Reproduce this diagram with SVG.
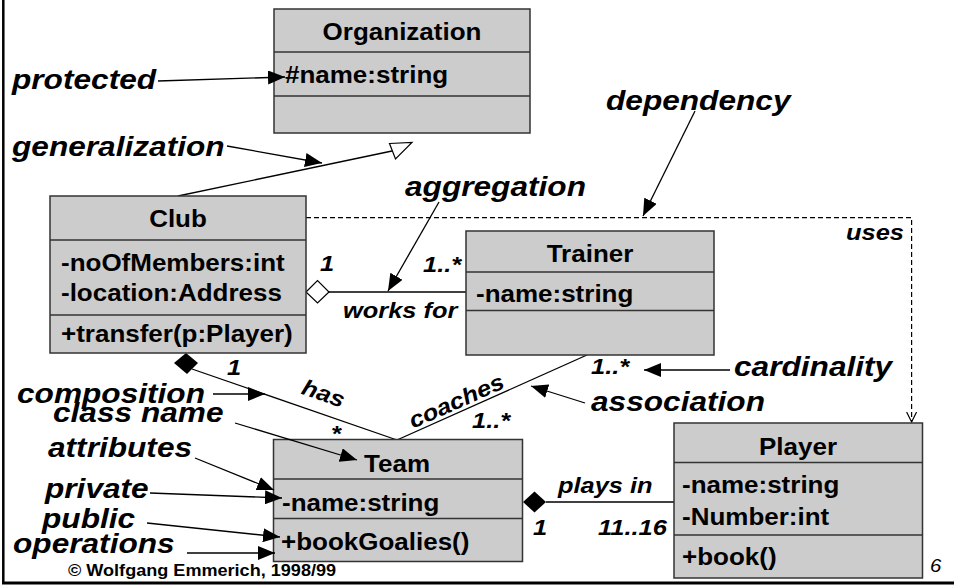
<svg xmlns="http://www.w3.org/2000/svg" width="954" height="586" viewBox="0 0 954 586">
<defs>
<style>
.box{fill:#cccccc;stroke:#333;stroke-width:1.5}
.div{stroke:#333;stroke-width:1.5}
.t{font-family:"Liberation Sans",Arial,sans-serif;font-weight:bold;font-size:23px;fill:#000}
.c{text-anchor:middle}
.lab{font-family:"Liberation Sans",Arial,sans-serif;font-weight:bold;font-style:italic;font-size:28px;fill:#000}
.sm{font-family:"Liberation Sans",Arial,sans-serif;font-weight:bold;font-style:italic;font-size:22.5px;fill:#000}
.ln{stroke:#000;stroke-width:1.3;fill:none}
.ar{stroke:#000;stroke-width:1.3;fill:none;marker-end:url(#ah)}
.dash{stroke:#000;stroke-width:1.2;fill:none;stroke-dasharray:5 3}
</style>
<marker id="ah" markerUnits="userSpaceOnUse" markerWidth="18" markerHeight="14" refX="17" refY="7" orient="auto">
<path d="M0,0 L17,7 L0,14 z" fill="#000"/>
</marker>
<marker id="open" markerUnits="userSpaceOnUse" markerWidth="12" markerHeight="12" refX="10" refY="5" orient="auto">
<path d="M0,0 L10,5 L0,10" fill="none" stroke="#000" stroke-width="1.2"/>
</marker>
</defs>
<rect width="954" height="586" fill="#fff"/>
<g id="frame">
<line x1="3.3" y1="0" x2="3.3" y2="583" stroke="#000" stroke-width="2.5"/>
<line x1="2" y1="583" x2="954" y2="583" stroke="#000" stroke-width="3"/>
</g>

<g id="connectors">
<line class="ln" x1="178" y1="196" x2="392" y2="151"/>
<polygon points="389.5,143.5 412,142.5 395.5,159" fill="#fff" stroke="#000" stroke-width="1.2"/>
<path class="dash" d="M306,217.7 H911.6 V422" marker-end="url(#open)"/>
<line class="ln" x1="329" y1="292" x2="466" y2="292"/>
<polygon points="306,292 317.5,280.5 329,292 317.5,303" fill="#fff" stroke="#000" stroke-width="1.2"/>
<line class="ln" x1="192" y1="369" x2="397" y2="440"/>
<polygon points="186,353 198,363 187,374 174,363" fill="#000"/>
<line class="ln" x1="397" y1="440" x2="587" y2="355"/>
<line class="ln" x1="546" y1="502" x2="674" y2="502"/>
<polygon points="523,502 534.5,491.5 546,502 534.5,512.5" fill="#000"/>
</g>

<g id="Organization">
<rect class="box" x="274" y="9" width="256" height="124"/>
<line class="div" x1="274" y1="52" x2="530" y2="52"/>
<line class="div" x1="274" y1="96" x2="530" y2="96"/>
<text class="t c" transform="matrix(1.13 0 0 1 402 40)">Organization</text>
<text class="t" transform="matrix(1.13 0 0 1 285 83)">#name:string</text>
</g>

<g id="Club">
<rect class="box" x="50" y="196" width="256" height="157"/>
<line class="div" x1="50" y1="240" x2="306" y2="240"/>
<line class="div" x1="50" y1="315" x2="306" y2="315"/>
<text class="t c" transform="matrix(1.13 0 0 1 178 227)">Club</text>
<text class="t" transform="matrix(1.13 0 0 1 61 271)">-noOfMembers:int</text>
<text class="t" transform="matrix(1.13 0 0 1 61 301)">-location:Address</text>
<text class="t" transform="matrix(1.13 0 0 1 61 342)">+transfer(p:Player)</text>
</g>

<g id="Trainer">
<rect class="box" x="466" y="231" width="248" height="124"/>
<line class="div" x1="466" y1="272" x2="714" y2="272"/>
<line class="div" x1="466" y1="310.5" x2="714" y2="310.5"/>
<text class="t c" transform="matrix(1.13 0 0 1 590 262)">Trainer</text>
<text class="t" transform="matrix(1.13 0 0 1 476 302)">-name:string</text>
</g>

<g id="Team">
<rect class="box" x="273.5" y="439.5" width="249" height="122"/>
<line class="div" x1="273.5" y1="479" x2="522.5" y2="479"/>
<line class="div" x1="273.5" y1="518.5" x2="522.5" y2="518.5"/>
<text class="t c" transform="matrix(1.13 0 0 1 397 472)">Team</text>
<text class="t" transform="matrix(1.13 0 0 1 282 511)">-name:string</text>
<text class="t" transform="matrix(1.13 0 0 1 281 550)">+bookGoalies()</text>
</g>

<g id="Player">
<rect class="box" x="674" y="423" width="248.5" height="155"/>
<line class="div" x1="674" y1="462.5" x2="922.5" y2="462.5"/>
<line class="div" x1="674" y1="535" x2="922.5" y2="535"/>
<text class="t c" transform="matrix(1.13 0 0 1 798 455)">Player</text>
<text class="t" transform="matrix(1.13 0 0 1 682 493)">-name:string</text>
<text class="t" transform="matrix(1.13 0 0 1 682 525)">-Number:int</text>
<text class="t" transform="matrix(1.13 0 0 1 682 565)">+book()</text>
</g>

<g id="annotation-arrows">
<line class="ar" x1="158" y1="81" x2="285" y2="77"/>
<line class="ar" x1="227" y1="146" x2="322" y2="163"/>
<line class="ar" x1="695" y1="111" x2="643" y2="216"/>
<line class="ar" x1="439" y1="202" x2="388" y2="291"/>
<line class="ar" x1="730" y1="370" x2="644" y2="370"/>
<line class="ar" x1="585" y1="403" x2="531" y2="386"/>
<line class="ar" x1="213" y1="394" x2="265" y2="394"/>
<line class="ar" x1="235" y1="423" x2="357" y2="460"/>
<line class="ar" x1="195" y1="458" x2="274" y2="490"/>
<line class="ar" x1="150" y1="493" x2="282" y2="498"/>
<line class="ar" x1="147" y1="523" x2="280" y2="537"/>
<line class="ar" x1="187" y1="553" x2="275" y2="553"/>
</g>

<g id="connector-labels">
<text class="sm" transform="matrix(1.13 0 0 1 320 271)">1</text>
<text class="sm" transform="matrix(1.13 0 0 1 423 272)">1..*</text>
<text class="sm" transform="matrix(1.13 0 0 1 343 318)">works for</text>
<text class="sm" transform="matrix(1.13 0 0 1 846 240)">uses</text>
<text class="sm" transform="matrix(1.13 0 0 1 227 375)">1</text>
<text class="sm c" transform="translate(321 400.6) rotate(19) scale(1.13 1)">has</text>
<text class="sm c" transform="matrix(1.13 0 0 1 336 441)">*</text>
<text class="sm c" transform="translate(459.5 408) rotate(-24) scale(1.13 1)">coaches</text>
<text class="sm" transform="matrix(1.13 0 0 1 472 428)">1..*</text>
<text class="sm" transform="matrix(1.13 0 0 1 591 374)">1..*</text>
<text class="sm" transform="matrix(1.13 0 0 1 558 493)">plays in</text>
<text class="sm" transform="matrix(1.13 0 0 1 533 535)">1</text>
<text class="sm" transform="matrix(1.13 0 0 1 598 535)">11..16</text>
</g>

<g id="annotations">
<text class="lab" transform="matrix(1.13 0 0 1 12 89)">protected</text>
<text class="lab" transform="matrix(1.13 0 0 1 12 156)">generalization</text>
<text class="lab" transform="matrix(1.13 0 0 1 606 110)">dependency</text>
<text class="lab" transform="matrix(1.13 0 0 1 405 196)">aggregation</text>
<text class="lab" transform="matrix(1.13 0 0 1 734 376)">cardinality</text>
<text class="lab" transform="matrix(1.13 0 0 1 591 411)">association</text>
<text class="lab" transform="matrix(1.13 0 0 1 17 403)">composition</text>
<text class="lab" transform="matrix(1.13 0 0 1 53 422)">class name</text>
<text class="lab" transform="matrix(1.13 0 0 1 48 457)">attributes</text>
<text class="lab" transform="matrix(1.13 0 0 1 45 498)">private</text>
<text class="lab" transform="matrix(1.13 0 0 1 42 528)">public</text>
<text class="lab" transform="matrix(1.13 0 0 1 13 553)">operations</text>
</g>

<g id="footer">
<text transform="matrix(1.13 0 0 1 68 576)" font-family="Liberation Sans, Arial, sans-serif" font-weight="bold" font-size="16">© Wolfgang Emmerich, 1998/99</text>
<text transform="matrix(1.13 0 0 1 930 572)" font-family="Liberation Sans, Arial, sans-serif" font-style="italic" font-size="18">6</text>
</g>
</svg>
